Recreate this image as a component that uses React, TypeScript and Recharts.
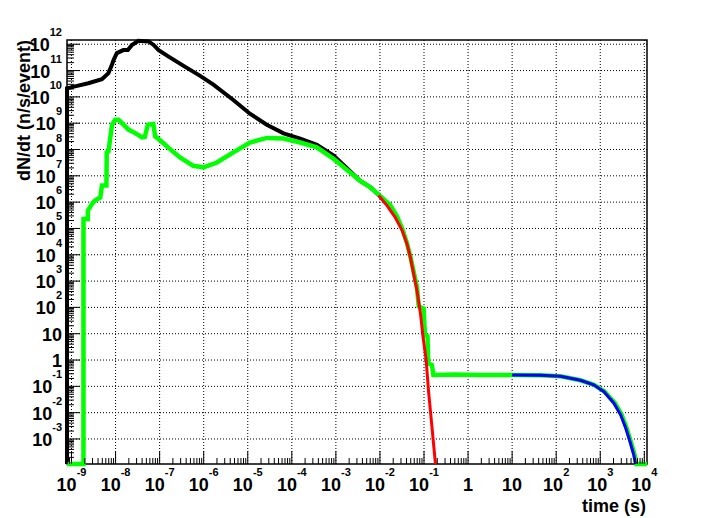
import {
  LineChart,
  Line,
  XAxis,
  YAxis,
  CartesianGrid,
  ReferenceArea,
} from 'recharts';

const FONT = '"Liberation Sans", Arial, Helvetica, sans-serif';

// axis ranges (log)
const X_MIN = 7.9e-10;
const X_MAX = 1.15e4;
const Y_MIN = 1.12e-4;
const Y_MAX = 1.45e12;

const xMajor = [1e-9, 1e-8, 1e-7, 1e-6, 1e-5, 1e-4, 1e-3, 1e-2, 1e-1, 1, 10, 1e2, 1e3, 1e4];
const yMajor = [1e-3, 1e-2, 1e-1, 1, 10, 1e2, 1e3, 1e4, 1e5, 1e6, 1e7, 1e8, 1e9, 1e10, 1e11, 1e12];

// [time (s), dN/dt]
const totalRate: [number, number][] = [
  [7.9e-10, Y_MIN], [7.9e-10, 2.1e10], [1.2e-9, 2.5e10], [2.4e-9, 3.3e10],
  [4.9e-9, 4.7e10], [6.9e-9, 8e10], [8.3e-9, 1.7e11], [9e-9, 2.5e11],
  [1.07e-8, 4.6e11], [1.5e-8, 6e11], [1.9e-8, 6e11], [2.35e-8, 9.4e11],
  [3.3e-8, 1.35e12], [5.6e-8, 1.28e12], [7.3e-8, 9.4e11], [9.5e-8, 6e11],
  [1.6e-7, 3.4e11], [3.5e-7, 1.5e11], [8.3e-7, 6.3e10], [1.66e-6, 2.9e10],
  [4.7e-6, 7.6e9], [1.12e-5, 2.3e9], [2.7e-5, 8.7e8], [6.5e-5, 4.1e8],
  [1.55e-4, 2.6e8], [3.7e-4, 1.5e8], [8.9e-4, 5.9e7], [2.1e-3, 1.5e7],
  [3.5e-3, 6.6e6], [6e-3, 3.7e6], [9.8e-3, 1.8e6],
];

const partRate: [number, number][] = [
  [7.9e-10, Y_MIN], [1.87e-9, Y_MIN], [1.87e-9, 2.3e5], [2.35e-9, 2.3e5],
  [2.35e-9, 4.8e5], [2.9e-9, 8.5e5], [3.4e-9, 1.15e6], [4.5e-9, 1.5e6],
  [4.9e-9, 4.3e6], [6.2e-9, 4.3e6], [6.3e-9, 7.8e7], [6.9e-9, 8.5e7],
  [8.3e-9, 8.7e8], [9.8e-9, 1.35e9], [1.17e-8, 1.35e9], [1.4e-8, 1e9],
  [2e-8, 5.6e8], [2.8e-8, 4.2e8], [4e-8, 2.9e8], [4.6e-8, 3e8],
  [5.4e-8, 8.7e8], [7.2e-8, 9.3e8], [7.9e-8, 3.2e8], [1.1e-7, 2e8],
  [1.6e-7, 1.15e8], [2.9e-7, 5e7], [5.8e-7, 2.4e7], [9.8e-7, 2.1e7],
  [2e-6, 3.2e7], [4.7e-6, 7.8e7], [1.12e-5, 1.85e8], [2.7e-5, 2.75e8],
  [6.5e-5, 2.6e8], [1.55e-4, 1.85e8], [3.7e-4, 1.2e8], [8.9e-4, 4.4e7],
  [2.1e-3, 1.35e7], [3.5e-3, 6.6e6], [6e-3, 3.7e6], [9.8e-3, 1.8e6],
  [1.7e-2, 7.8e5], [2.4e-2, 3e5], [3.2e-2, 1e5], [4.1e-2, 2.8e4],
  [4.9e-2, 8.5e3], [5.8e-2, 2.3e3], [6.9e-2, 600], [7.6e-2, 110],
  [9.8e-2, 90], [0.105, 9.3], [0.12, 8], [0.125, 0.75],
  [0.151, 0.65], [0.163, 0.27], [0.5, 0.28], [2, 0.27],
  [10, 0.27], [44, 0.265], [125, 0.24], [355, 0.17],
  [720, 0.115], [1000, 0.08], [1250, 0.064], [2150, 0.023],
  [3050, 8.3e-3], [3950, 2.6e-3], [4900, 8.2e-4], [6000, 2.5e-4],
  [6600, Y_MIN], [X_MAX, Y_MIN],
];

const fastFit: [number, number][] = [
  [9.3e-3, 1.8e6], [1.45e-2, 7.4e5], [2.2e-2, 2.7e5], [3.2e-2, 8.3e4],
  [4.1e-2, 2.6e4], [4.9e-2, 8.1e3], [5.8e-2, 1.9e3], [6.9e-2, 450],
  [8.3e-2, 59], [9.5e-2, 7.6], [0.112, 1], [0.126, 0.072],
  [0.151, 3e-3], [0.182, Y_MIN],
];

const slowFit: [number, number][] = [
  [10, 0.27], [44, 0.265], [125, 0.24], [355, 0.17],
  [710, 0.115], [980, 0.08], [1200, 0.064], [2040, 0.023],
  [2900, 8.3e-3], [3780, 2.6e-3], [4700, 8.2e-4], [5760, 2.5e-4],
  [6300, Y_MIN],
];

const toRows = (pts: [number, number][]) => pts.map(([t, n]) => ({ t, n }));

const minorOf = (majors: number[], lo: number, hi: number) => {
  const out: number[] = [];
  for (const m of majors) {
    for (let k = 2; k <= 9; k++) {
      const v = m * k;
      if (v > lo && v < hi) out.push(v);
    }
  }
  return out;
};

const xTicks = [...xMajor, ...minorOf([1e-10, ...xMajor], X_MIN, X_MAX)].sort((a, b) => a - b);
const yTicks = [...yMajor, ...minorOf([1e-4, ...yMajor], Y_MIN, Y_MAX)].sort((a, b) => a - b);

const expOf = (v: number) => Math.round(Math.log10(v));
const isMajor = (v: number) => Math.abs(Math.log10(v) - expOf(v)) < 1e-6;

function PowLabel({ exp, x, y, anchor }: { exp: number; x: number; y: number; anchor: string }) {
  const common = {
    x,
    y,
    textAnchor: anchor as any,
    fontFamily: FONT,
    fontWeight: 'bold',
    fontSize: 18,
    fill: '#000',
  };
  if (exp === 0) return <text {...common}>1</text>;
  if (exp === 1) return <text {...common}>10</text>;
  return (
    <text {...common}>
      <tspan>10</tspan>
      <tspan fontSize={11} dy={-15}>{exp}</tspan>
    </text>
  );
}

function XTick(props: any) {
  const { x, y, payload } = props;
  const major = isMajor(payload.value);
  return (
    <g>
      <line x1={x} x2={x} y1={y} y2={y - (major ? 13 : 6)} stroke="#000" />
      {major && <PowLabel exp={expOf(payload.value)} x={x} y={y + 27} anchor="middle" />}
    </g>
  );
}

function YTick(props: any) {
  const { x, y, payload } = props;
  const major = isMajor(payload.value);
  return (
    <g>
      <line x1={x} x2={x + (major ? 13 : 7)} y1={y} y2={y} stroke="#000" />
      {major && <PowLabel exp={expOf(payload.value)} x={x - 5} y={y + 7} anchor="end" />}
    </g>
  );
}

export default function App() {
  return (
    <div style={{ position: 'absolute', left: 0, top: 0, background: '#fff' }}>
      <LineChart width={707} height={518} margin={{ top: 40, right: 60, bottom: 0, left: 0 }}>
        <CartesianGrid
          verticalValues={xMajor}
          horizontalValues={yMajor}
          stroke="#000"
          strokeDasharray="1 2"
        />
        <XAxis
          dataKey="t"
          type="number"
          scale="log"
          domain={[X_MIN, X_MAX]}
          ticks={xTicks}
          interval={0}
          tick={<XTick />}
          tickLine={false}
          tickSize={0}
          tickMargin={0}
          axisLine={false}
          height={54}
        />
        <YAxis
          dataKey="n"
          type="number"
          scale="log"
          domain={[Y_MIN, Y_MAX]}
          ticks={yTicks}
          interval={0}
          tick={<YTick />}
          tickLine={false}
          tickSize={0}
          tickMargin={0}
          axisLine={false}
          width={67}
        />
        <ReferenceArea x1={X_MIN} x2={X_MAX} y1={Y_MIN} y2={Y_MAX} fill="none" stroke="#000" strokeWidth={1.5} fillOpacity={0} />
        <Line data={toRows(totalRate)} dataKey="n" type="linear" stroke="#000" strokeWidth={4} dot={false} isAnimationActive={false} />
        <Line data={toRows(partRate)} dataKey="n" type="linear" stroke="#00ff00" strokeWidth={4.5} dot={false} isAnimationActive={false} />
        <Line data={toRows(fastFit)} dataKey="n" type="linear" stroke="#ff0000" strokeWidth={3} dot={false} isAnimationActive={false} />
        <Line data={toRows(slowFit)} dataKey="n" type="linear" stroke="#0000ff" strokeWidth={3} dot={false} isAnimationActive={false} />
        <text x={30} y={40} transform="rotate(-90 30 40)" textAnchor="end" fontFamily={FONT} fontWeight="bold" fontSize={18} fill="#000">
          dN/dt (n/s/event)
        </text>
        <text x={646} y={512} textAnchor="end" fontFamily={FONT} fontWeight="bold" fontSize={18} fill="#000">
          time (s)
        </text>
      </LineChart>
    </div>
  );
}
